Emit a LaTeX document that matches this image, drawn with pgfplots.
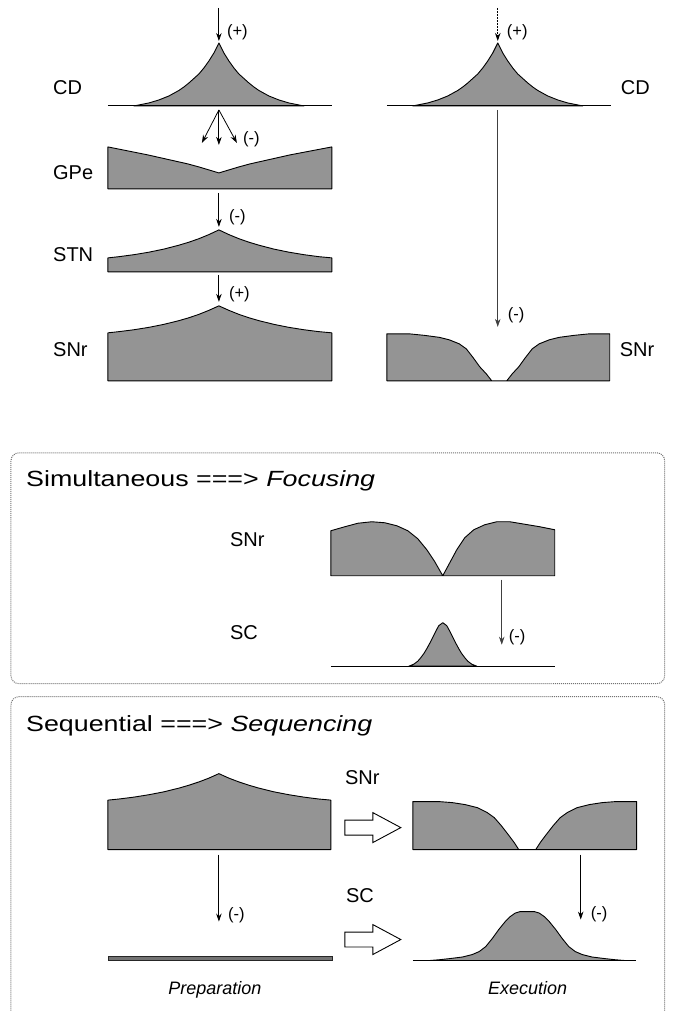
\documentclass[border=0pt]{standalone}
\usepackage{pgfplots}
\pgfplotsset{compat=1.18}
\usepackage{fontspec}
\setmainfont{Liberation Sans}
\newfontfamily\titlefont[FakeStretch=1.22]{Liberation Sans}
\usetikzlibrary{arrows.meta}
\tikzset{
  shp/.style={draw=black,fill=black!42,line width=0.9pt,line join=round},
  arr/.style={-{Stealth[length=8pt,width=5.5pt]},line width=0.8pt},
  thinarr/.style={-{Stealth[length=8pt,width=5.5pt]},line width=0.6pt,black!75},
  lab/.style={font=\fontsize{20}{23}\selectfont,inner sep=0pt},
  sgn/.style={font=\fontsize{16.5}{19}\selectfont,inner sep=0pt},
  ttl/.style={font=\fontsize{22}{26}\titlefont,inner sep=0pt},
  capt/.style={font=\fontsize{18}{21}\selectfont\itshape,inner sep=0pt},
  box/.style={draw=black!55,densely dotted,line width=1pt,rounded corners=8pt},
}
\begin{document}
\begin{tikzpicture}
\begin{axis}[width=674pt,height=1011pt,scale only axis,
  xmin=0,xmax=674,ymin=0,ymax=1011,y dir=reverse,hide axis,clip=false,
  every axis plot/.append style={mark=none}]
\path (axis cs:0,0) rectangle (axis cs:674,1011);

% ---------- top left: CD ----------
\addplot[shp] coordinates {(134,106)(139,105)(149,103)(159,100)(169,96)(179,90.5)(184,87)(189,83)(194,78.5)(199,74)(204,68)(209,61)(214,53)(219,43)(224,53)(229,61)(234,68)(239,74)(244,78.5)(249,83)(254,87)(259,90.5)(269,96)(279,100)(289,103)(299,105)(304,106)} -- cycle;
\addplot[black,line width=1pt] coordinates {(108,106)(332,106)};
% GPe
\addplot[shp] coordinates {(108,147)(128,151)(148,155)(168,159.5)(188,164)(199,167)(209,170)(219,173)(229,170)(239,167)(250,164)(270,159.5)(290,155)(311,151)(332,147)(332,189)(108,189)} -- cycle;
% STN
\addplot[shp] coordinates {(108,258)(119,256.8)(134,254.8)(149,252.3)(164,249.2)(179,245.3)(189,242.3)(199,238.8)(209,234.7)(219,230)(229,234.7)(239,238.8)(249,242.3)(259,245.3)(274,249.2)(289,252.3)(304,254.8)(319,256.8)(332,258)(332,272)(108,272)} -- cycle;
% SNr (left)
\addplot[shp] coordinates {(108,333)(119,331.8)(134,329.9)(149,327.5)(164,324.5)(179,320.8)(189,317.9)(199,314.5)(209,310.5)(219,306)(229,310.5)(239,314.5)(249,317.9)(259,320.8)(274,324.5)(289,327.5)(304,329.9)(319,331.8)(332,333)(332,381)(108,381)} -- cycle;

% ---------- top right ----------
\addplot[shp] coordinates {(413,106)(418,105)(428,103)(438,100)(448,96)(458,90.5)(463,87)(468,83)(473,78.5)(478,74)(483,68)(488,61)(493,53)(498,43)(503,53)(508,61)(513,68)(518,74)(523,78.5)(528,83)(533,87)(538,90.5)(548,96)(558,100)(568,103)(578,105)(583,106)} -- cycle;
\addplot[black,line width=1pt] coordinates {(387,106)(611,106)};
\addplot[shp] coordinates {(387,334)(409.5,334)(424.5,335.5)(439.5,337.5)(449.5,340)(459.5,344)(466.5,349)(473.5,358)(480,367)(486.5,374)(492,381)(507,381)(512.5,374)(519,367)(525.5,358)(532.5,349)(539.5,344)(549.5,340)(559.5,337.5)(574.5,335.5)(589.5,334)(610,334)(610,381)(387,381)} -- cycle;

% arrows top
\draw[arr] (axis cs:219,8) -- (axis cs:219,41);
\draw[arr,dash pattern=on 2pt off 1pt] (axis cs:498,8) -- (axis cs:498,41);
\draw[arr] (axis cs:219,110) -- (axis cs:202,143);
\draw[arr] (axis cs:219,110) -- (axis cs:219,145);
\draw[arr] (axis cs:219,110) -- (axis cs:237,143);
\draw[arr] (axis cs:219,193) -- (axis cs:219,227);
\draw[arr] (axis cs:219,275) -- (axis cs:219,302);
\draw[thinarr] (axis cs:498,110) -- (axis cs:498,327);

\node[lab,anchor=base west] at (axis cs:53,95) {CD};
\node[lab,anchor=base west] at (axis cs:53,180) {GPe};
\node[lab,anchor=base west] at (axis cs:53,262) {STN};
\node[lab,anchor=base west] at (axis cs:53,357) {SNr};
\node[lab,anchor=base west] at (axis cs:621,95) {CD};
\node[lab,anchor=base west] at (axis cs:620,357) {SNr};
\node[sgn,anchor=base west] at (axis cs:227,37) {(+)};
\node[sgn,anchor=base west] at (axis cs:243,144) {(-)};
\node[sgn,anchor=base west] at (axis cs:229,222) {(-)};
\node[sgn,anchor=base west] at (axis cs:229,299) {(+)};
\node[sgn,anchor=base west] at (axis cs:507,37) {(+)};
\node[sgn,anchor=base west] at (axis cs:508,320) {(-)};

% ---------- middle box ----------
\draw[box] (axis cs:11,453) rectangle (axis cs:665,684);
\node[ttl,anchor=base west] at (axis cs:26,487) {Simultaneous ===> \textit{Focusing}};
\addplot[shp] coordinates {(331,531)(345,527)(358,523.5)(372,522)(385,523)(397,526)(408,531)(418,539)(427,550)(435,562)(443,576)(450,563)(457,550)(465,538)(474,530)(485,525)(497,522)(510,522)(525,524.5)(540,527)(555,530)(555,576)(331,576)} -- cycle;
\addplot[shp] coordinates {(409,666.5)(414,664.5)(418,661.5)(421,658)(424,654)(427,649)(430,643.5)(433,637.5)(436,631.5)(439,626)(443,623)(447,626)(450,631.5)(453,637.5)(456,643.5)(459,649)(462,654)(465,658)(468,661.5)(472,664.5)(477,666.5)} -- cycle;
\addplot[black,line width=1pt] coordinates {(331,666.5)(555,666.5)};
\draw[thinarr] (axis cs:502,580) -- (axis cs:502,645);
\node[lab,anchor=base west] at (axis cs:230,547) {SNr};
\node[lab,anchor=base west] at (axis cs:230,640) {SC};
\node[sgn,anchor=base west] at (axis cs:509,642) {(-)};

% ---------- lower box ----------
\draw[box] (axis cs:11,1011) -- (axis cs:11,697) -- (axis cs:665,697) -- (axis cs:665,1011);
\node[ttl,anchor=base west] at (axis cs:26,732) {Sequential ===> \textit{Sequencing}};
\addplot[shp] coordinates {(108,800.5)(119,799.4)(134,797.5)(149,795.1)(164,792.2)(179,788.5)(189,785.6)(199,782.3)(209,778.5)(219,774)(229,778.5)(239,782.3)(249,785.6)(259,788.5)(274,792.2)(289,795.1)(304,797.5)(319,799.4)(331,800.5)(331,850)(108,850)} -- cycle;
\addplot[draw=black!85,fill=black!55,line width=0.5pt] coordinates {(108,957)(332,957)(332,961)(108,961)} -- cycle;
\addplot[shp] coordinates {(413,802)(439.5,802)(452.5,803)(465.5,805)(477.5,808)(487.5,813)(494.5,818)(501.5,826)(508.5,835)(514.5,843)(519,850)(536,850)(540.5,843)(546.5,835)(553.5,826)(560.5,818)(567.5,813)(577.5,808)(589.5,805)(602.5,803)(615.5,802)(637,802)(637,850)(413,850)} -- cycle;
\addplot[shp] coordinates {(429.5,961)(439.5,960.2)(450.5,959)(462.5,957.5)(472.5,955)(479.5,952)(486,947)(492.5,939)(499,930)(505.5,922)(510.5,917)(515.5,913.5)(520.5,912)(534.5,912)(539.5,913.5)(544.5,917)(549.5,922)(556,930)(562.5,939)(569,947)(575.5,952)(582.5,955)(592.5,957.5)(604.5,959)(615.5,960.2)(625.5,961)} -- cycle;
\addplot[black,line width=1pt] coordinates {(413,961)(636,961)};
% hollow arrows
\addplot[draw=black,fill=white,line width=0.9pt,line join=miter] coordinates {(345,820.5)(373,820.5)(373,813)(401,828)(373,843)(373,835.5)(345,835.5)} -- cycle;
\addplot[draw=black,fill=white,line width=0.9pt,line join=miter] coordinates {(345,932.5)(373,932.5)(373,925)(401,940)(373,955)(373,947.5)(345,947.5)} -- cycle;
\draw[arr] (axis cs:219,855) -- (axis cs:219,922);
\draw[arr] (axis cs:581,855) -- (axis cs:581,920);
\node[lab,anchor=base west] at (axis cs:345,785) {SNr};
\node[lab,anchor=base west] at (axis cs:346,903) {SC};
\node[sgn,anchor=base west] at (axis cs:228,920) {(-)};
\node[sgn,anchor=base west] at (axis cs:591,919) {(-)};
\node[capt,anchor=base] at (axis cs:215,995) {Preparation};
\node[capt,anchor=base] at (axis cs:528,995) {Execution};
\end{axis}
\end{tikzpicture}
\end{document}
